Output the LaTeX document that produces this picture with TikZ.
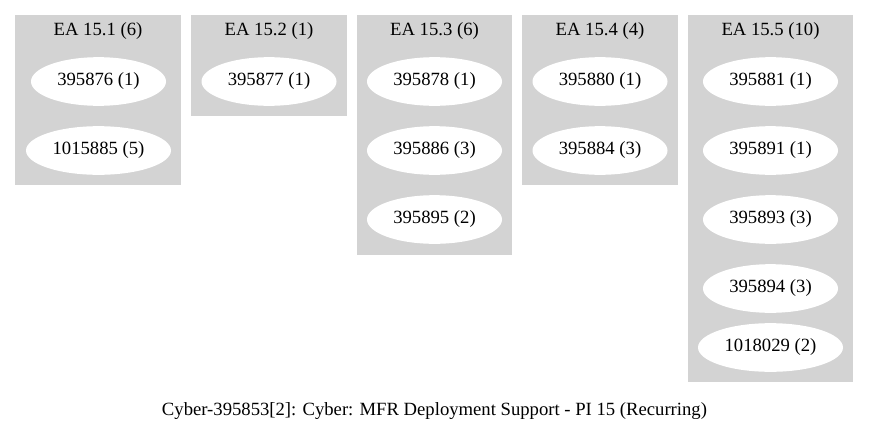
\documentclass[tikz,border=0pt]{standalone}
\usepackage{fontspec}
\setmainfont{Liberation Serif}
\usepackage{xcolor}
\usetikzlibrary{positioning,calc,shapes.geometric}
\definecolor{clustergray}{HTML}{D3D3D3}

\begin{document}
\begin{tikzpicture}[x=0.75pt, y=-0.75pt, every node/.style={font=\fontsize{14}{16}\selectfont},
    cluster/.style={fill=clustergray},
    job/.style={ellipse, fill=white, minimum height=36.5pt, minimum width=101.25pt, inner sep=0pt},
    widejob/.style={job, minimum width=108.75pt}]
    \useasboundingbox (0,0) rectangle (869,429);

    % Kümeler (gri kutular)
    \fill[cluster] (15,15) rectangle (181,185);
    \fill[cluster] (191,15) rectangle (347,116);
    \fill[cluster] (357,15) rectangle (512,255);
    \fill[cluster] (522,15) rectangle (678,185);
    \fill[cluster] (688,15) rectangle (853,382);

    % Küme başlıkları
    \node (t1) at (98,31.5) {EA 15.1 (6)};
    \node (t2) at (269,31.5) {EA 15.2 (1)};
    \node (t3) at (434.5,31.5) {EA 15.3 (6)};
    \node (t4) at (600,31.5) {EA 15.4 (4)};
    \node (t5) at (770.5,31.5) {EA 15.5 (10)};

    % EA 15.1
    \node[job] (n395876) at (98.5,81.5) {395876 (1)};
    \node[widejob] (n1015885) at (98.5,150.5) {1015885 (5)};
    % EA 15.2
    \node[job] (n395877) at (269,81.5) {395877 (1)};
    % EA 15.3
    \node[job] (n395878) at (434.5,81.5) {395878 (1)};
    \node[job] (n395886) at (434.5,150.5) {395886 (3)};
    \node[job] (n395895) at (434.5,219.5) {395895 (2)};
    % EA 15.4
    \node[job] (n395880) at (600,81.5) {395880 (1)};
    \node[job] (n395884) at (600,150.5) {395884 (3)};
    % EA 15.5
    \node[job] (n395881) at (770.5,81.5) {395881 (1)};
    \node[job] (n395891) at (770.5,150.5) {395891 (1)};
    \node[job] (n395893) at (770.5,219.5) {395893 (3)};
    \node[job] (n395894) at (770.5,288.5) {395894 (3)};
    \node[widejob] (n1018029) at (770.5,347.5) {1018029 (2)};

    % Alt yazı
    \node (caption) at (434.5,411.5) {Cyber-395853[2]: Cyber: MFR Deployment Support - PI 15 (Recurring)};
\end{tikzpicture}
\end{document}
